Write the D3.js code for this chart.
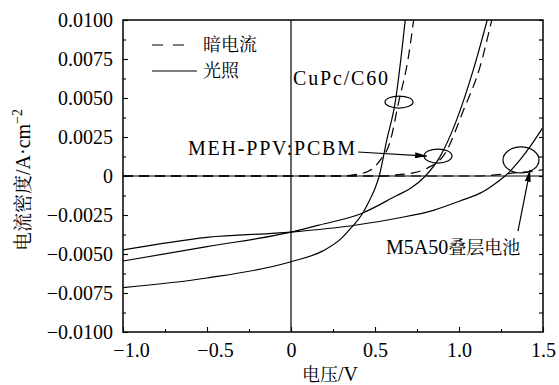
<!DOCTYPE html>
<html>
<head>
<meta charset="utf-8">
<script src="https://cdn.jsdelivr.net/npm/d3@7"></script>
<style>
  body { margin: 0; background: #fff; }
  svg { display: block; }
</style>
</head>
<body>
<script>
// voltage (V) / current density (A/cm2) pairs
var cupcLight = [[-1.0,-0.00716],[-0.5,-0.00654],[0.0,-0.0055],[0.19,-0.0048],[0.30,-0.0040],[0.36,-0.0033],[0.42,-0.0025],[0.47,-0.0015],[0.50,-0.0008],[0.525,0.0],[0.57,0.0023],[0.62,0.0047],[0.68,0.0100]];
var cupcDark = [[-1.0,0.0],[0.30,0.0],[0.39,0.0001],[0.46,0.0003],[0.53,0.0010],[0.59,0.0022],[0.64,0.0047],[0.70,0.0077],[0.73,0.0100]];
var mehLight = [[-1.0,-0.00545],[-0.5,-0.00453],[0.0,-0.0036],[0.17,-0.00314],[0.42,-0.0024],[0.63,-0.00125],[0.71,-0.0008],[0.80,0.0],[0.887,0.00124],[0.986,0.0036],[1.085,0.0068],[1.168,0.0100]];
var mehDark = [[-1.0,0.0],[0.55,0.0],[0.65,0.0001],[0.726,0.0002],[0.81,0.0005],[0.917,0.00145],[1.026,0.0042],[1.125,0.0070],[1.195,0.0100]];
var tandemLight = [[-1.0,-0.00474],[-0.5,-0.00393],[0.0,-0.0036],[0.39,-0.00314],[0.63,-0.00271],[0.848,-0.0022],[1.006,-0.0016],[1.145,-0.0010],[1.244,-0.00026],[1.274,0.0],[1.363,0.00103],[1.423,0.00188],[1.496,0.00305]];
var tandemDark = [[-1.0,0.0],[1.10,0.0],[1.25,0.0001],[1.33,0.0002],[1.43,0.0003],[1.5,0.0004]];

var xTicks = [-1.0, -0.5, 0, 0.5, 1.0, 1.5];
var xTickLabels = ["\u22121.0", "\u22120.5", "0", "0.5", "1.0", "1.5"];
var yTicks = [0.01, 0.0075, 0.005, 0.0025, 0, -0.0025, -0.005, -0.0075, -0.01];
var yTickLabels = ["0.0100", "0.0075", "0.0050", "0.0025", "0", "\u22120.0025", "\u22120.0050", "\u22120.0075", "\u22120.0100"];

// annotations in data units
var ellipses = [{v: 0.643, j: 0.00474, rx: 14, ry: 6}, {v: 0.875, j: 0.00128, rx: 14, ry: 7}, {v: 1.369, j: 0.00103, rx: 18, ry: 13}];
var labels = [
  {text: "CuPc/C60", v: 0.012, j: 0.00583, len: 95},
  {text: "MEH-PPV:PCBM", v: -0.613, j: 0.00135, len: 167}
];
var arrows = [{v1: 0.399, j1: 0.00154, v2: 0.81, j2: 0.00128}, {v1: 1.351, j1: -0.00353, v2: 1.423, j2: 0.00040}];

var SERIF = "Liberation Serif";
var CJK = "Noto Serif CJK SC";

var margin = {top: 20, right: 16, bottom: 53, left: 123},
    W = 559, H = 385,
    w = W - margin.left - margin.right,
    h = H - margin.top - margin.bottom;

var svg = d3.select("body").append("svg")
    .attr("width", W)
    .attr("height", H);

svg.append("defs").append("marker")
    .attr("id", "head")
    .attr("markerUnits", "userSpaceOnUse")
    .attr("viewBox", "0 0 12 6")
    .attr("refX", 12).attr("refY", 3)
    .attr("markerWidth", 12).attr("markerHeight", 6)
    .attr("orient", "auto")
  .append("path")
    .attr("d", "M0,0L12,3L0,6Z")
    .attr("fill", "#000");

svg.select("defs").append("clipPath").attr("id", "clip")
  .append("rect").attr("width", w).attr("height", h);

var g = svg.append("g")
    .attr("transform", "translate(" + margin.left + "," + margin.top + ")");

var xScale = d3.scaleLinear().domain([-1, 1.5]).range([0, w]);
var yScale = d3.scaleLinear().domain([-0.01, 0.01]).range([h, 0]);

// axes with inward ticks
var yAxis = d3.axisLeft(yScale).tickValues(yTicks).tickSize(-5).tickPadding(10)
    .tickFormat(function(d, i) { return yTickLabels[i]; });
var yMinor = d3.axisLeft(yScale).tickValues(d3.range(-0.00875, 0.01, 0.0025)).tickSize(-3).tickFormat("");
var yRight = d3.axisRight(yScale).tickValues(d3.range(-0.00875, 0.01, 0.00125)).tickSize(-4).tickFormat("");
var xAxis = d3.axisBottom(xScale).tickValues(xTicks).tickSize(-5).tickPadding(11)
    .tickFormat(function(d, i) { return xTickLabels[i]; });
var xMinor = d3.axisBottom(xScale).tickValues([-0.75, -0.25, 0.25, 0.75, 1.25]).tickSize(-3).tickFormat("");

function styleAxis(sel) {
  sel.select(".domain").remove();
  sel.attr("font-family", null).attr("font-size", null);
  sel.selectAll("line").attr("stroke", "#000").attr("stroke-width", 1.1);
  sel.selectAll("text").attr("fill", "#000")
    .style("font-family", SERIF).style("font-size", "20px");
}

g.append("g").call(yAxis).call(styleAxis);
g.append("g").call(yMinor).call(styleAxis);
g.append("g").attr("transform", "translate(" + w + ",0)").call(yRight).call(styleAxis);
var gx = g.append("g").attr("transform", "translate(0," + h + ")").call(xAxis).call(styleAxis);
gx.selectAll("text").attr("dx", function(d) { return d < 0 ? 8 : 0; });
g.append("g").attr("transform", "translate(0," + h + ")").call(xMinor).call(styleAxis);

// zero lines
g.append("line").attr("x1", 0).attr("x2", w).attr("y1", yScale(0)).attr("y2", yScale(0))
    .attr("stroke", "#000").attr("stroke-width", 1.2);
g.append("line").attr("x1", xScale(0)).attr("x2", xScale(0)).attr("y1", 0).attr("y2", h)
    .attr("stroke", "#000").attr("stroke-width", 1.2);

var line = d3.line()
    .x(function(d) { return xScale(d[0]); })
    .y(function(d) { return yScale(d[1]); })
    .curve(d3.curveMonotoneX);

var curves = g.append("g").attr("clip-path", "url(#clip)");
[cupcDark, mehDark, tandemDark].forEach(function(s) {
  curves.append("path").datum(s).attr("d", line)
    .attr("fill", "none").attr("stroke", "#000").attr("stroke-width", 1.2)
    .attr("stroke-dasharray", "10,6");
});
[cupcLight, mehLight, tandemLight].forEach(function(s) {
  curves.append("path").datum(s).attr("d", line)
    .attr("fill", "none").attr("stroke", "#000").attr("stroke-width", 1.2);
});

// frame
g.append("rect").attr("width", w).attr("height", h)
    .attr("fill", "none").attr("stroke", "#000").attr("stroke-width", 1.5);

// ellipses, arrows, labels
g.selectAll(".ell").data(ellipses).enter().append("ellipse")
    .attr("cx", function(d) { return xScale(d.v); })
    .attr("cy", function(d) { return yScale(d.j); })
    .attr("rx", function(d) { return d.rx; })
    .attr("ry", function(d) { return d.ry; })
    .attr("fill", "none").attr("stroke", "#000").attr("stroke-width", 1.2);

g.selectAll(".arr").data(arrows).enter().append("line")
    .attr("x1", function(d) { return xScale(d.v1); })
    .attr("y1", function(d) { return yScale(d.j1); })
    .attr("x2", function(d) { return xScale(d.v2); })
    .attr("y2", function(d) { return yScale(d.j2); })
    .attr("stroke", "#000").attr("stroke-width", 1.2)
    .attr("marker-end", "url(#head)");

g.selectAll(".lbl").data(labels).enter().append("text")
    .attr("x", function(d) { return xScale(d.v); })
    .attr("y", function(d) { return yScale(d.j); })
    .style("font-family", SERIF)
    .style("font-size", "20px")
    .attr("textLength", function(d) { return d.len; })
    .attr("lengthAdjust", "spacing")
    .text(function(d) { return d.text; });

var tl = g.append("text")
    .attr("x", xScale(0.565)).attr("y", yScale(-0.005));
tl.append("tspan").style("font-family", SERIF).style("font-size", "20px").text("M5A50");
tl.append("tspan").style("font-family", CJK).style("font-size", "18px").text("叠层电池");

// legend
var leg = svg.append("g");
leg.append("line").attr("x1", 152).attr("x2", 185).attr("y1", 45).attr("y2", 45)
    .attr("stroke", "#000").attr("stroke-width", 1.2).attr("stroke-dasharray", "11,10");
leg.append("line").attr("x1", 152).attr("x2", 197).attr("y1", 71).attr("y2", 71)
    .attr("stroke", "#000").attr("stroke-width", 1.2);
leg.append("text").style("font-family", CJK).style("font-size", "18px").attr("x", 203).attr("y", 45)
    .attr("dy", "0.35em").text("暗电流");
leg.append("text").style("font-family", CJK).style("font-size", "18px").attr("x", 203).attr("y", 71)
    .attr("dy", "0.35em").text("光照");

// axis titles
var xt = svg.append("text").attr("x", 330).attr("y", 381).attr("text-anchor", "middle");
xt.append("tspan").style("font-family", CJK).style("font-size", "18px").text("电压");
xt.append("tspan").style("font-family", SERIF).style("font-size", "20px").text("/V");

var yt = svg.append("text").attr("transform", "translate(30,180) rotate(-90)")
    .attr("text-anchor", "middle");
yt.append("tspan").style("font-family", CJK).style("font-size", "19px").text("电流密度");
yt.append("tspan").style("font-family", SERIF).style("font-size", "20px").text("/A\u00b7cm");
yt.append("tspan").style("font-family", SERIF).style("font-size", "14px").attr("dy", -8).text("\u22122");
</script>
</body>
</html>
